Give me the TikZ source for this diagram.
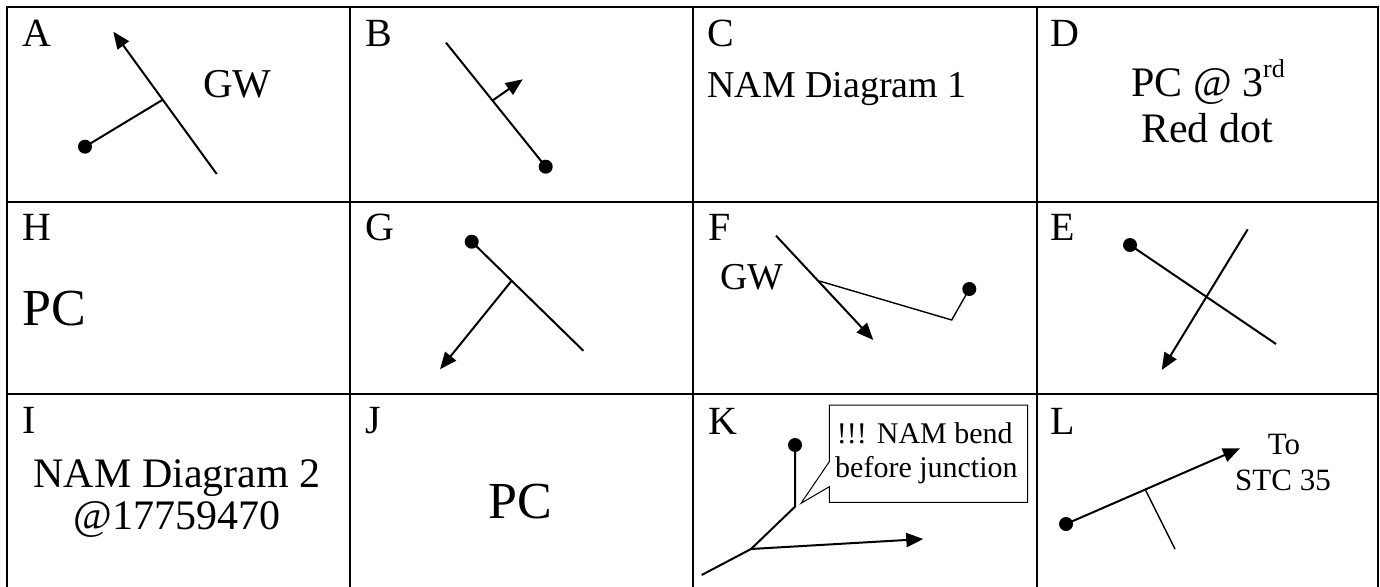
\documentclass[tikz,border=0pt]{standalone}
\usepackage{fontspec}
\setmainfont{Liberation Serif}
\usetikzlibrary{arrows.meta}
\tikzset{
  grid/.style={line width=2.2pt},
  ln/.style={line width=2pt},
  thinln/.style={line width=1.4pt},
  arr/.style={line width=2pt,-{Triangle[length=17pt,width=14pt]}},
  dotc/.style={fill=black},
  lab/.style={anchor=base west,inner sep=0pt,font=\fontsize{40}{46}\selectfont},
  txt/.style={anchor=base west,inner sep=0pt,font=\fontsize{38}{44}\selectfont},
  ctxt/.style={anchor=base,inner sep=0pt,font=\fontsize{42}{48}\selectfont},
  big/.style={anchor=base,inner sep=0pt,font=\fontsize{52}{58}\selectfont},
  small/.style={anchor=base west,inner sep=0pt,font=\fontsize{30}{34}\selectfont},
}
\begin{document}
\begin{tikzpicture}[x=1pt,y=-1pt]
\useasboundingbox (0,0) rectangle (1380,586);
% grid (bottom edge lies outside the picture)
\draw[grid] (7,590) -- (7,7) -- (1378,7) -- (1378,590);
\draw[grid] (350,7) -- (350,590);
\draw[grid] (693,7) -- (693,590);
\draw[grid] (1037,7) -- (1037,590);
\draw[grid] (7,202) -- (1378,202);
\draw[grid] (7,394) -- (1378,394);

% ---- A
\node[lab] (la) at (22,47) {A};
\coordinate (a1) at (216.7,174);
\coordinate (a2) at (113.3,31.7);
\coordinate (aj) at (162.3,100);
\coordinate (ad) at (85,146.7);
\draw[arr] (a1) -- (a2);
\draw[ln] (ad) -- (aj);
\fill[dotc] (ad) circle (7);
\node[anchor=base west,inner sep=0pt,font=\fontsize{41}{46}\selectfont] (gwa) at (203,97) {GW};

% ---- B
\node[lab] (lb) at (365,47) {B};
\coordinate (b1) at (446,42.7);
\coordinate (bd) at (545.7,166.7);
\coordinate (bj) at (493.3,100);
\coordinate (bt) at (522.7,79.3);
\draw[ln] (b1) -- (bd);
\draw[arr] (bj) -- (bt);
\fill[dotc] (bd) circle (7);

% ---- C
\node[lab] (lc) at (707,47) {C};
\node[txt] (nam1) at (707,97.3) {NAM Diagram 1};

% ---- D
\node[lab] (ld) at (1050,47) {D};
\node[ctxt] (pc3) at (1208,96.7) {PC @ 3\raisebox{0.45em}{\fontsize{26}{30}\selectfont rd}};
\node[ctxt] (red) at (1207,142.7) {Red dot};

% ---- H
\node[lab] (lh) at (22,240.7) {H};
\node[anchor=base west,inner sep=0pt,font=\fontsize{52}{58}\selectfont] (pch) at (22,325) {PC};

% ---- G
\node[lab] (lg) at (365,240.7) {G};
\coordinate (gd) at (471.7,241.7);
\coordinate (ge) at (583.3,350.7);
\coordinate (gj) at (511.7,280.7);
\coordinate (gt) at (440,369.3);
\draw[ln] (gd) -- (ge);
\draw[arr] (gj) -- (gt);
\fill[dotc] (gd) circle (7);

% ---- F
\node[lab] (lf) at (708,240.7) {F};
\node[txt] (gwf) at (720,289) {GW};
\coordinate (f1) at (776,235.7);
\coordinate (ft) at (873.3,340);
\coordinate (fj) at (819.3,281);
\coordinate (fb) at (951.7,320);
\coordinate (fd) at (969.3,289);
\draw[arr] (f1) -- (ft);
\draw[thinln] (fj) -- (fb) -- (fd);
\fill[dotc] (fd) circle (7);

% ---- E
\node[lab] (le) at (1050,240.7) {E};
\coordinate (ed) at (1130,245);
\coordinate (ee) at (1276,344);
\coordinate (e1) at (1247.7,229.3);
\coordinate (et) at (1161.7,370);
\draw[ln] (ed) -- (ee);
\draw[arr] (e1) -- (et);
\fill[dotc] (ed) circle (7);

% ---- I
\node[lab] (li) at (22,433.3) {I};
\node[ctxt] (nam2) at (177,487.3) {NAM Diagram 2};
\node[ctxt] (num) at (177,529.3) {@17759470};

% ---- J
\node[lab] (lj) at (365,433.3) {J};
\node[big] (pcj) at (520,518.3) {PC};

% ---- K
\node[lab] (lk) at (708,434) {K};
\coordinate (kd) at (795,445);
\coordinate (kb) at (795,506.7);
\coordinate (kj) at (751,549);
\coordinate (ke) at (701.7,575);
\coordinate (kt) at (923.3,539);
\draw[ln,line join=miter] (kd) -- (kb) -- (kj) -- (ke);
\draw[arr] (kj) -- (kt);
\fill[dotc] (kd) circle (7);
\draw[line width=1pt,fill=white] (829.3,405) -- (1027.7,405) -- (1027.7,502.3) -- (829.3,502.3)
  -- (829.3,486.7) -- (801,503.3) -- (829.3,461.7) -- cycle;
\node[small] (k1) at (836.7,443.3) {!!! NAM bend};
\node[small] (k2) at (835,477) {before junction};

% ---- L
\node[lab] (ll) at (1050,434) {L};
\coordinate (ld0) at (1066,524);
\coordinate (lt) at (1240,448.3);
\coordinate (lj1) at (1145,489);
\coordinate (lj2) at (1175,549);
\draw[arr] (ld0) -- (lt);
\draw[thinln] (lj1) -- (lj2);
\fill[dotc] (ld0) circle (7);
\node[anchor=base,inner sep=0pt,font=\fontsize{31}{36}\selectfont] (to) at (1284,454) {To};
\node[anchor=base,inner sep=0pt,font=\fontsize{31}{36}\selectfont] (stc) at (1283,490) {STC 35};
\end{tikzpicture}
\end{document}
